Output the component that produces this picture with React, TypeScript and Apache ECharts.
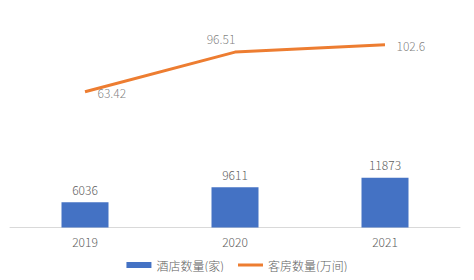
import React, { useEffect, useRef } from "react";
import * as echarts from "echarts";

const categories = ["2019", "2020", "2021"];
const hotelCounts = [6036, 9611, 11873];
const roomCounts = [63.42, 96.51, 102.6];
const seriesNames = ["酒店数量(家)", "客房数量(万间)"];

const FONT = "'Noto Sans CJK SC', 'Noto Sans', sans-serif";
const TEXT = "#606060";
const WEIGHT = 300;

export default function App() {
  const ref = useRef<HTMLDivElement>(null);
  useEffect(() => {
    if (!ref.current) return;
    const chart = echarts.init(ref.current, undefined, { renderer: "svg" });
    const lineLabelCfg = [
      { position: "right", distance: 12, offset: [0, 1] },
      { position: "top", distance: 7, offset: [-14, 0] },
      { position: "right", distance: 11, offset: [0, 1] },
    ];
    const labelText = { color: TEXT, fontSize: 12, fontFamily: FONT, fontWeight: WEIGHT };
    chart.setOption({
      animation: false,
      textStyle: { fontFamily: FONT },
      grid: { left: 10, right: 14, top: 24, bottom: 52.5, containLabel: false },
      legend: {
        bottom: 4,
        left: "center",
        itemWidth: 25,
        itemHeight: 6,
        itemGap: 14,
        symbolKeepAspect: true,
        textStyle: labelText,
        data: [
          { name: seriesNames[0], icon: "rect" },
          { name: seriesNames[1], icon: "path://M0,0H25V3H0Z", itemStyle: { color: "#ED7D31" } },
        ],
      },
      xAxis: {
        type: "category",
        data: categories,
        axisLine: { lineStyle: { color: "#d9d9d9", width: 1 } },
        axisTick: { show: false },
        axisLabel: { ...labelText, margin: 8 },
      },
      yAxis: [
        { type: "value", min: 0, max: 48500, show: false, splitLine: { show: false } },
        { type: "value", min: -50, max: 120, show: false, splitLine: { show: false } },
      ],
      series: [
        {
          name: seriesNames[0],
          type: "bar",
          yAxisIndex: 0,
          barWidth: 47,
          data: hotelCounts,
          itemStyle: { color: "#4472C4" },
          label: { show: true, position: "top", distance: 7, ...labelText },
        },
        {
          name: seriesNames[1],
          type: "line",
          yAxisIndex: 1,
          symbol: "none",
          lineStyle: { color: "#ED7D31", width: 3 },
          itemStyle: { color: "#ED7D31" },
          data: roomCounts,
        },
        {
          name: "labels",
          type: "scatter",
          yAxisIndex: 1,
          symbolSize: 1,
          itemStyle: { color: "rgba(0,0,0,0)" },
          silent: true,
          data: roomCounts.map((v, i) => ({ value: v, label: { show: true, ...labelText, ...lineLabelCfg[i] } })),
        },
      ],
    });
    return () => chart.dispose();
  }, []);
  return <div ref={ref} style={{ width: 474, height: 280, margin: -8 }} />;
}
